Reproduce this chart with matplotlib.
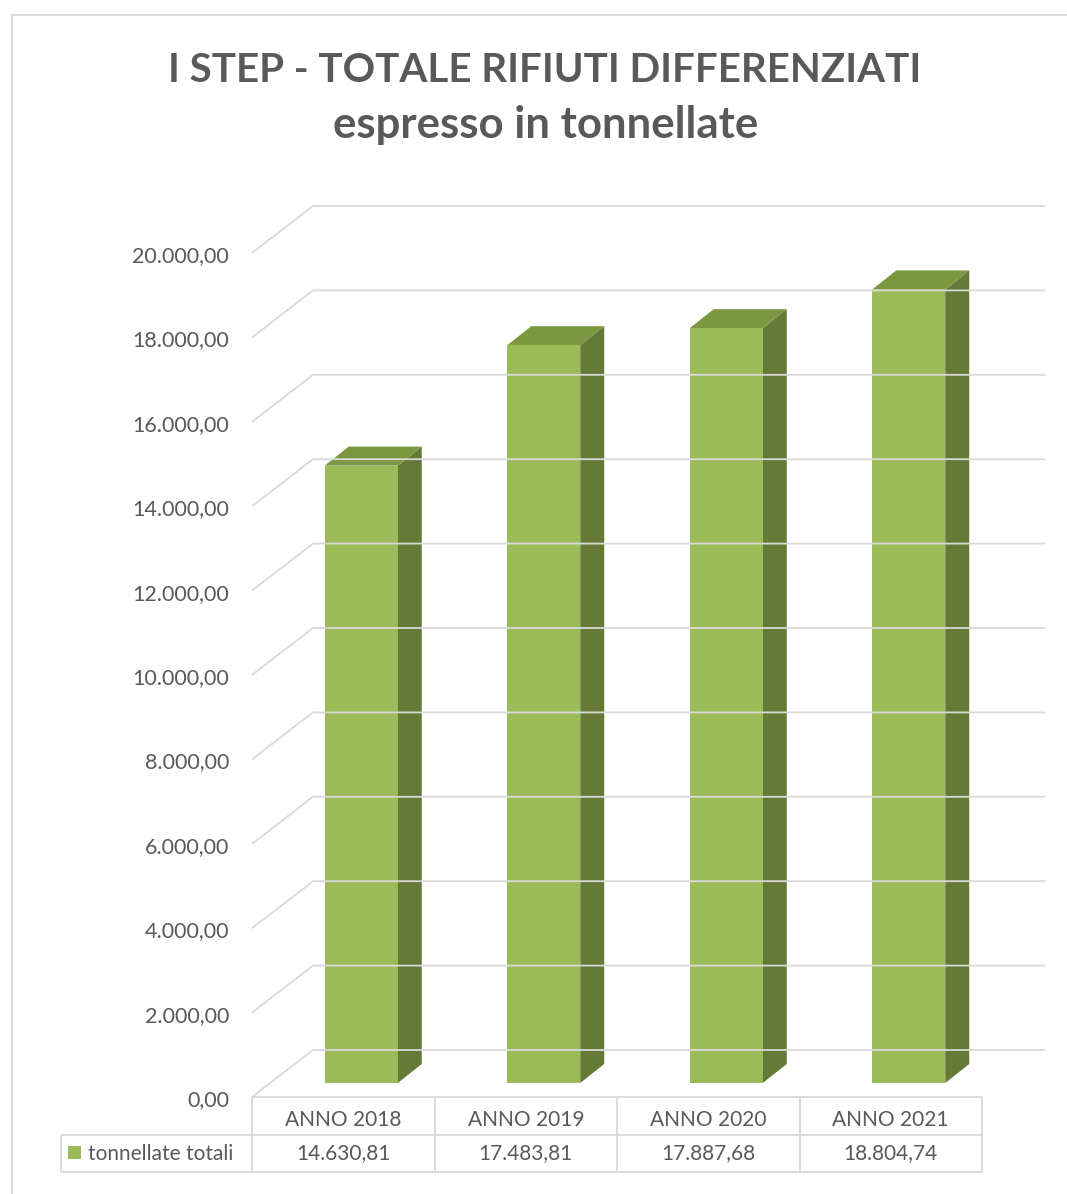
import matplotlib.pyplot as plt
from matplotlib.patches import Polygon

plt.rcParams['font.family'] = ['Lato', 'DejaVu Sans']

# data
categories = ['ANNO 2018', 'ANNO 2019', 'ANNO 2020', 'ANNO 2021']
tonnellate = [14630.81, 17483.81, 17887.68, 18804.74]
series_name = 'tonnellate totali'
yticks = list(range(0, 20001, 2000))
title1 = 'I STEP - TOTALE RIFIUTI DIFFERENZIATI'
title2 = 'espresso in tonnellate'

W, H = 1067, 1194
txt = '#595959'
grid = '#d9d9d9'
c_front, c_top, c_side = '#9bbb59', '#7b9740', '#657a37'


def it_fmt(v):
    s = f'{v:,.2f}'
    return s.replace(',', 'X').replace('.', ',').replace('X', '.')


fig = plt.figure(figsize=(W / 100, H / 100), dpi=100)

# front plane box in pixels
x0, x1 = 252, 982
yb, yt = 1097, 253
ax = fig.add_axes([x0 / W, 1 - yb / H, (x1 - x0) / W, (yb - yt) / H])
ax.set_xlim(-0.5, len(categories) - 0.5)
ax.set_ylim(0, 20000)
ax.axis('off')

ux = len(categories) / (x1 - x0)      # data units per px (x)
uy = 20000 / (yb - yt)                # data units per px (y)

# depth of the wall and of the bars
wdx, wdy = 61 * ux, 47 * uy
bsx, bsy = 18 * ux, 14 * uy
bdx, bdy = 24 * ux, 19 * uy
xend = -0.5 + (1045 - x0) * ux
bw = 0.4

for v in yticks:
    ax.plot([-0.5, -0.5 + wdx, xend], [v, v + wdy, v + wdy],
            color=grid, lw=1.3, clip_on=False, solid_capstyle='butt')
    ax.text(-0.5 - 23 * ux, v - 3 * uy, it_fmt(v), ha='right', va='center',
            fontsize=15.5, color=txt)

for i, v in enumerate(tonnellate):
    l = i - bw / 2 + bsx
    r = l + bw
    b = bsy
    t = bsy + v
    ax.add_patch(Polygon([(r, b), (r + bdx, b + bdy), (r + bdx, t + bdy), (r, t)],
                         closed=True, fc=c_side, ec='none', clip_on=False))
    ax.add_patch(Polygon([(l, t), (r, t), (r + bdx, t + bdy), (l + bdx, t + bdy)],
                         closed=True, fc=c_top, ec='none', clip_on=False))
    ax.add_patch(Polygon([(l, b), (r, b), (r, t), (l, t)],
                         closed=True, fc=c_front, ec='none', clip_on=False))

# data table
ov = fig.add_axes([0, 0, 1, 1])
ov.set_xlim(0, W)
ov.set_ylim(H, 0)
ov.axis('off')
ov.patch.set_alpha(0)

r0, r1, r2 = 1097, 1135, 1172
tl = 61
colw = (x1 - x0) / len(categories)
lk = dict(color=grid, lw=1.3, solid_capstyle='butt')
ov.plot([x0, x1], [r0, r0], **lk)
ov.plot([tl, x1], [r1, r1], **lk)
ov.plot([tl, x1], [r2, r2], **lk)
ov.plot([tl, tl], [r1, r2], **lk)
for k in range(len(categories) + 1):
    xx = x0 + k * colw
    ov.plot([xx, xx], [r0, r2], **lk)
for k, (cat, v) in enumerate(zip(categories, tonnellate)):
    cx = x0 + (k + 0.5) * colw
    ov.text(cx, (r0 + r1) / 2 + 4, cat, ha='center', va='center', fontsize=15, color=txt)
    ov.text(cx, (r1 + r2) / 2, it_fmt(v), ha='center', va='center', fontsize=15, color=txt)
ov.add_patch(plt.Rectangle((68, 1146), 13, 13, fc=c_front, ec='none'))
ov.text(88, (r1 + r2) / 2, series_name, ha='left', va='center', fontsize=15, color=txt)

# chart border
ov.plot([12, W], [15, 15], color=grid, lw=1.5)
ov.plot([12, 12], [15, H], color=grid, lw=1.5)

ov.text(545, 70, title1, ha='center', va='center', fontsize=29, fontweight='bold', color=txt)
ov.text(546, 125, title2, ha='center', va='center', fontsize=31.5, fontweight='bold', color=txt)

fig.savefig('out.png', dpi=100)
